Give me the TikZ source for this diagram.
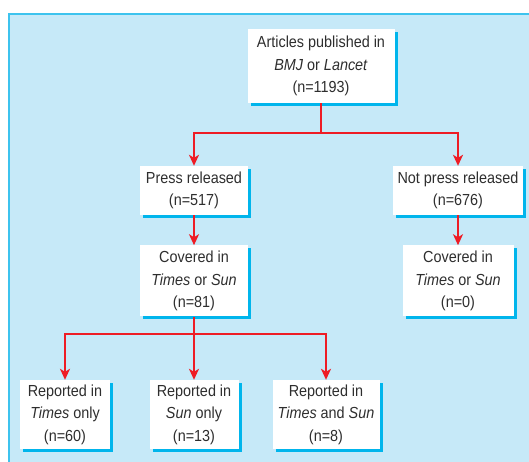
\documentclass[tikz,border=0pt]{standalone}
\usepackage{fontspec}
\setmainfont{Liberation Sans}[FakeStretch=0.9]
\usepackage{tikz}
\usetikzlibrary{positioning}
\usetikzlibrary{arrows.meta}
\usetikzlibrary{shadows}
\definecolor{panelcol}{HTML}{C6E9F8}
\definecolor{framecol}{HTML}{3DC3EE}
\definecolor{shadecol}{HTML}{00B5EC}
\definecolor{flowcol}{HTML}{EE1C25}
\definecolor{textcol}{HTML}{2E2E2E}
\tikzset{
  box/.style={fill=white,text=textcol,align=center,inner sep=0pt,
    font=\fontsize{16}{22.5}\selectfont,
    drop shadow={shadow xshift=3pt,shadow yshift=-3pt,fill=shadecol,opacity=1}},
  link/.style={draw=flowcol,line width=1.8pt},
  flow/.style={link,-{Stealth[length=11pt,width=10pt,inset=3pt]}},
}

\begin{document}
\begin{tikzpicture}[x=1pt,y=-1pt]
    \useasboundingbox (0,0) rectangle (529,461);
    \fill[panelcol] (9,14) rectangle (535,470);
    \draw[framecol,line width=1.5pt] (535,14) -- (9,14) -- (9,470);
    \node[box,minimum width=147pt,minimum height=74pt] (top) at (321,66)
      {Articles published in\\\textit{BMJ} or \textit{Lancet}\\(n=1193)};
    \node[box,minimum width=108pt,minimum height=49pt] (press) at (194,190.5)
      {Press released\\(n=517)};
    \node[box,minimum width=130pt,minimum height=49pt] (notpress) at (458,190.5)
      {Not press released\\(n=676)};
    \node[box,minimum width=108pt,minimum height=71pt,below=30pt of press] (covyes)
      {Covered in\\\textit{Times} or \textit{Sun}\\(n=81)};
    \node[box,minimum width=111pt,minimum height=71pt,below=30pt of notpress] (covno)
      {Covered in\\\textit{Times} or \textit{Sun}\\(n=0)};
    \node[box,minimum width=90pt,minimum height=69pt] (times) at (65,414.5)
      {Reported in\\\textit{Times} only\\(n=60)};
    \node[box,minimum width=89pt,minimum height=69pt] (sun) at (194,414.5)
      {Reported in\\\textit{Sun} only\\(n=13)};
    \node[box,minimum width=107pt,minimum height=69pt] (both) at (326,414.5)
      {Reported in\\\textit{Times} and \textit{Sun}\\(n=8)};
    \coordinate[below=30pt of top.south] (split);
    \coordinate[below=17pt of covyes.south] (splitb);
    \draw[link] (top) -- (split);
    \draw[flow] (split) -| (press);
    \draw[flow] (split) -| (notpress);
    \draw[flow] (press) -- (covyes);
    \draw[flow] (notpress) -- (covno);
    \draw[link] (covyes) -- (splitb);
    \draw[flow] (splitb) -| (times);
    \draw[flow] (splitb) -- (sun);
    \draw[flow] (splitb) -| (both);
  \end{tikzpicture}
\end{document}
